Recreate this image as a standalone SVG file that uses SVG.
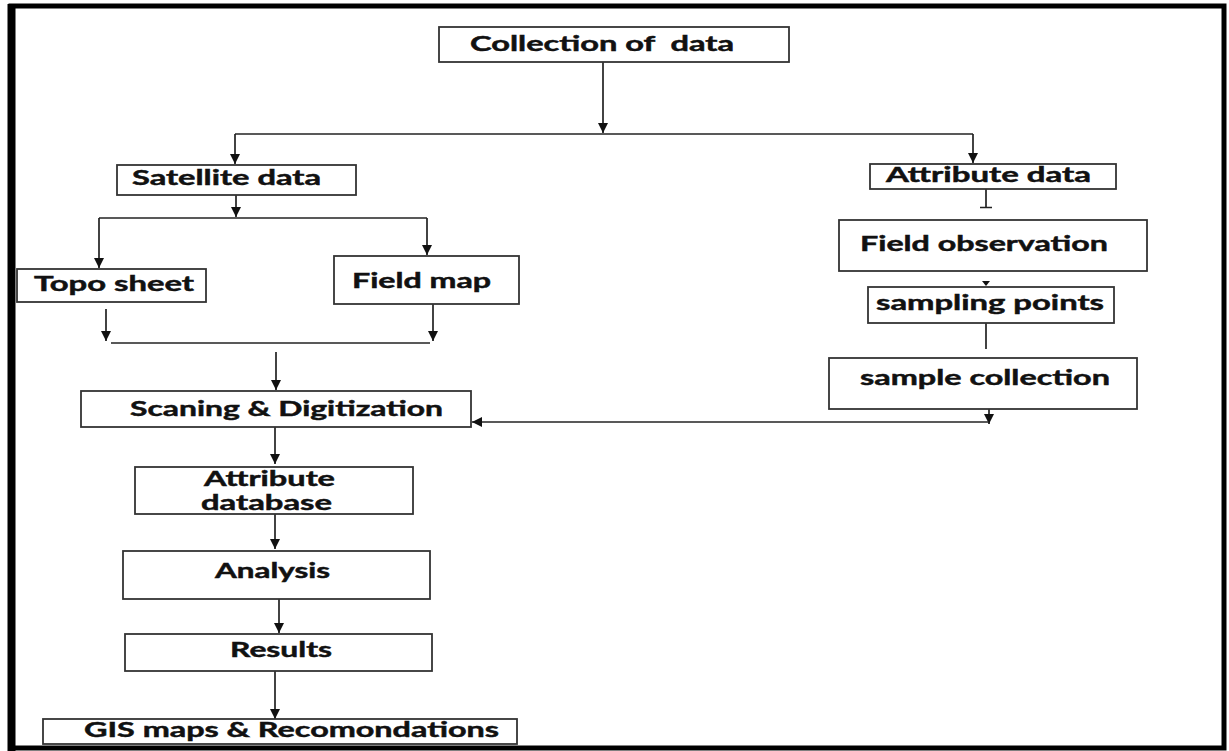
<svg xmlns="http://www.w3.org/2000/svg" width="1229" height="751" viewBox="0 0 1229 751">
<style>
.box{fill:#fff;stroke:#333;stroke-width:1.8}
.t{font-family:Lato,"Liberation Sans",sans-serif;font-weight:bold;font-size:20px;fill:#111;stroke:#111;stroke-width:0.45}
.c{fill:none;stroke:#222;stroke-width:1.7}
</style>
<defs>
<marker id="ah" markerUnits="userSpaceOnUse" markerWidth="12" markerHeight="12" refX="10" refY="6" orient="auto">
<path d="M0,1 L10,6 L0,11 z" fill="#111"/>
</marker>
</defs>
<rect x="0" y="0" width="1229" height="751" fill="#fff"/>
<g id="frame">
<rect x="11" y="6" width="1213" height="742" fill="none" stroke="#000" stroke-width="5"/>
<line x1="11.5" y1="4" x2="11.5" y2="751" stroke="#000" stroke-width="8"/>
</g>
<g id="connectors">
<path class="c" d="M603,62 V133" marker-end="url(#ah)"/>
<path class="c" d="M235,134 H973"/>
<path class="c" d="M235,134 V164" marker-end="url(#ah)"/>
<path class="c" d="M973,134 V163" marker-end="url(#ah)"/>
<path class="c" d="M236,195 V217" marker-end="url(#ah)"/>
<path class="c" d="M99,218 H427"/>
<path class="c" d="M99,218 V268" marker-end="url(#ah)"/>
<path class="c" d="M427,218 V255" marker-end="url(#ah)"/>
<path class="c" d="M106,309 V341" marker-end="url(#ah)"/>
<path class="c" d="M433,304 V341" marker-end="url(#ah)"/>
<path class="c" d="M111,343 H430"/>
<path class="c" d="M276,352 V390" marker-end="url(#ah)"/>
<path class="c" d="M986,189 V207 M980,207.5 H992"/>
<polygon points="982,281 990,281 986,286" fill="#111"/>
<path class="c" d="M986,323 V349"/>
<path class="c" d="M989,409 V424" marker-end="url(#ah)"/>
<path class="c" d="M989,422 H472" marker-end="url(#ah)"/>
<path class="c" d="M275,427 V464" marker-end="url(#ah)"/>
<path class="c" d="M275,514 V549" marker-end="url(#ah)"/>
<path class="c" d="M279,599 V633" marker-end="url(#ah)"/>
<path class="c" d="M275,671 V719" marker-end="url(#ah)"/>
</g>
<g id="n-collection"><rect class="box" x="439" y="27" width="350" height="35"/><text class="t" x="470" y="51" textLength="264" lengthAdjust="spacingAndGlyphs" xml:space="preserve">Collection of  data</text></g>
<g id="n-satellite"><rect class="box" x="117" y="165" width="239" height="30"/><text class="t" x="132" y="185" textLength="189" lengthAdjust="spacingAndGlyphs">Satellite data</text></g>
<g id="n-attribute-data"><rect class="box" x="870" y="164" width="246" height="25"/><text class="t" x="886" y="182" textLength="205" lengthAdjust="spacingAndGlyphs">Attribute data</text></g>
<g id="n-topo"><rect class="box" x="17" y="269" width="189" height="33"/><text class="t" x="34" y="291" textLength="160" lengthAdjust="spacingAndGlyphs">Topo sheet</text></g>
<g id="n-fieldmap"><rect class="box" x="334" y="256" width="185" height="48"/><text class="t" x="352" y="288" textLength="139" lengthAdjust="spacingAndGlyphs">Field map</text></g>
<g id="n-fieldobs"><rect class="box" x="839" y="220" width="308" height="51"/><text class="t" x="860" y="251" textLength="248" lengthAdjust="spacingAndGlyphs">Field observation</text></g>
<g id="n-sampling"><rect class="box" x="868" y="287" width="246" height="36"/><text class="t" x="876" y="310" textLength="228" lengthAdjust="spacingAndGlyphs">sampling points</text></g>
<g id="n-sample"><rect class="box" x="829" y="358" width="308" height="51"/><text class="t" x="860" y="385" textLength="250" lengthAdjust="spacingAndGlyphs">sample collection</text></g>
<g id="n-scan"><rect class="box" x="81" y="391" width="390" height="36"/><text class="t" x="130" y="416" textLength="313" lengthAdjust="spacingAndGlyphs">Scaning &amp; Digitization</text></g>
<g id="n-attrdb"><rect class="box" x="135" y="467" width="278" height="47"/><text class="t" x="204" y="486" textLength="131" lengthAdjust="spacingAndGlyphs">Attribute</text><text class="t" x="201" y="510" textLength="131" lengthAdjust="spacingAndGlyphs">database</text></g>
<g id="n-analysis"><rect class="box" x="123" y="551" width="307" height="48"/><text class="t" x="215" y="578" textLength="115" lengthAdjust="spacingAndGlyphs">Analysis</text></g>
<g id="n-results"><rect class="box" x="125" y="634" width="307" height="37"/><text class="t" x="230" y="657" textLength="102" lengthAdjust="spacingAndGlyphs">Results</text></g>
<g id="n-gis"><rect class="box" x="43" y="719" width="474" height="25"/><text class="t" x="84" y="737" textLength="415" lengthAdjust="spacingAndGlyphs">GIS maps &amp; Recomondations</text></g>
</svg>
